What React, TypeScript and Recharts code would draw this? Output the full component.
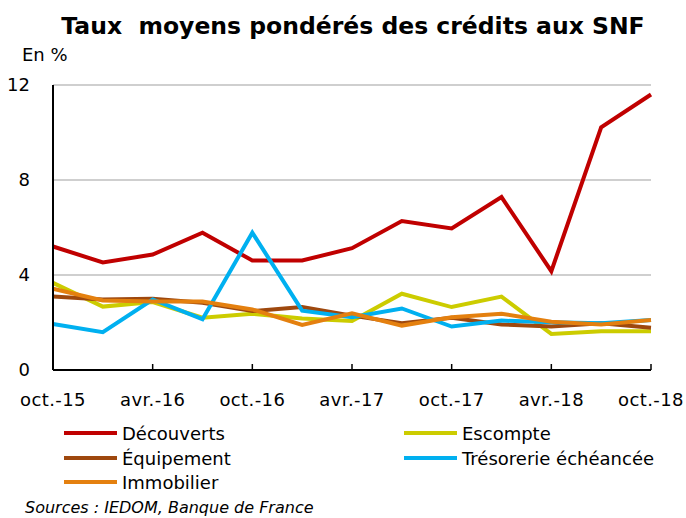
import React from "react";
import { LineChart, Line, XAxis, YAxis, CartesianGrid } from "recharts";

const quarters = [
  "oct.-15", "janv.-16", "avr.-16", "juil.-16", "oct.-16", "janv.-17", "avr.-17",
  "juil.-17", "oct.-17", "janv.-18", "avr.-18", "juil.-18", "oct.-18",
];
const decouverts = [5.2, 4.53, 4.86, 5.78, 4.61, 4.61, 5.13, 6.27, 5.96, 7.28, 4.16, 10.22, 11.6];
const escompte = [3.67, 2.67, 2.86, 2.2, 2.37, 2.17, 2.06, 3.21, 2.65, 3.09, 1.52, 1.63, 1.63];
const equipement = [3.09, 2.97, 3.0, 2.83, 2.48, 2.65, 2.29, 1.97, 2.2, 1.92, 1.83, 1.97, 1.78];
const tresorerie = [1.94, 1.59, 2.97, 2.14, 5.78, 2.5, 2.22, 2.59, 1.83, 2.08, 2.01, 1.97, 2.11];
const immobilier = [3.42, 2.93, 2.88, 2.88, 2.55, 1.9, 2.39, 1.87, 2.22, 2.37, 2.03, 1.92, 2.11];
const yTicks = [0, 4, 8, 12];

const series = [
  { key: "decouverts", name: "Découverts", color: "#C00000" },
  { key: "escompte", name: "Escompte", color: "#CCCC00" },
  { key: "equipement", name: "Équipement", color: "#9E480E" },
  { key: "tresorerie", name: "Trésorerie échéancée", color: "#00B0F0" },
  { key: "immobilier", name: "Immobilier", color: "#E4800F" },
];

const data = quarters.map((q, i) => ({
  name: q,
  decouverts: decouverts[i],
  escompte: escompte[i],
  equipement: equipement[i],
  tresorerie: tresorerie[i],
  immobilier: immobilier[i],
}));

// legend layout: two columns, filled row by row
const legendPos = [
  { x: 64, y: 433 },
  { x: 404, y: 433 },
  { x: 64, y: 458 },
  { x: 404, y: 458 },
  { x: 64, y: 482 },
];

const font = "'DejaVu Sans', sans-serif";

export default function App() {
  return (
    <div style={{ position: "absolute", left: 0, top: 0, width: 686, height: 518, background: "#fff", fontFamily: font }}>
      <LineChart
        width={686}
        height={420}
        data={data}
        margin={{ top: 85, right: 35, bottom: 0, left: 0 }}
      >
        <CartesianGrid vertical={false} stroke="#BFBFBF" strokeWidth={1.5} />
        <XAxis
          dataKey="name"
          interval={1}
          height={50}
          axisLine={{ stroke: "#000", strokeWidth: 2 }}
          tickLine={{ stroke: "#000", strokeWidth: 1.5 }}
          tickSize={-6}
          tickMargin={29}
          tick={{ fill: "#000", fontSize: 18, fontFamily: font, letterSpacing: 0.4 }}
        />
        <YAxis
          domain={[0, 12]}
          ticks={yTicks}
          width={53}
          axisLine={{ stroke: "#000", strokeWidth: 2 }}
          tickLine={false}
          tickSize={0}
          tickMargin={23}
          tick={{ fill: "#000", fontSize: 18, fontFamily: font }}
        />
        {series.map((s) => (
          <Line
            key={s.key}
            type="linear"
            dataKey={s.key}
            name={s.name}
            stroke={s.color}
            strokeWidth={4}
            dot={false}
            isAnimationActive={false}
          />
        ))}
      </LineChart>
      <svg width={686} height={518} style={{ position: "absolute", left: 0, top: 0, pointerEvents: "none" }}>
        <text
          x={353}
          y={34}
          textAnchor="middle"
          fontFamily={font}
          fontWeight="bold"
          fontSize={23.5}
          fill="#000"
          style={{ whiteSpace: "pre" }}
        >
          {"Taux  moyens pondérés des crédits aux SNF"}
        </text>
        <text x={22} y={61} fontFamily={font} fontSize={18} fill="#000">
          En %
        </text>
        {series.map((s, i) => (
          <g key={s.key}>
            <line
              x1={legendPos[i].x}
              x2={legendPos[i].x + 53}
              y1={legendPos[i].y}
              y2={legendPos[i].y}
              stroke={s.color}
              strokeWidth={4}
            />
            <text x={legendPos[i].x + 58} y={legendPos[i].y + 7} fontFamily={font} fontSize={18} fill="#000">
              {s.name}
            </text>
          </g>
        ))}
        <text x={25} y={513} fontFamily={font} fontStyle="italic" fontSize={16} fill="#000">
          Sources : IEDOM, Banque de France
        </text>
      </svg>
    </div>
  );
}
